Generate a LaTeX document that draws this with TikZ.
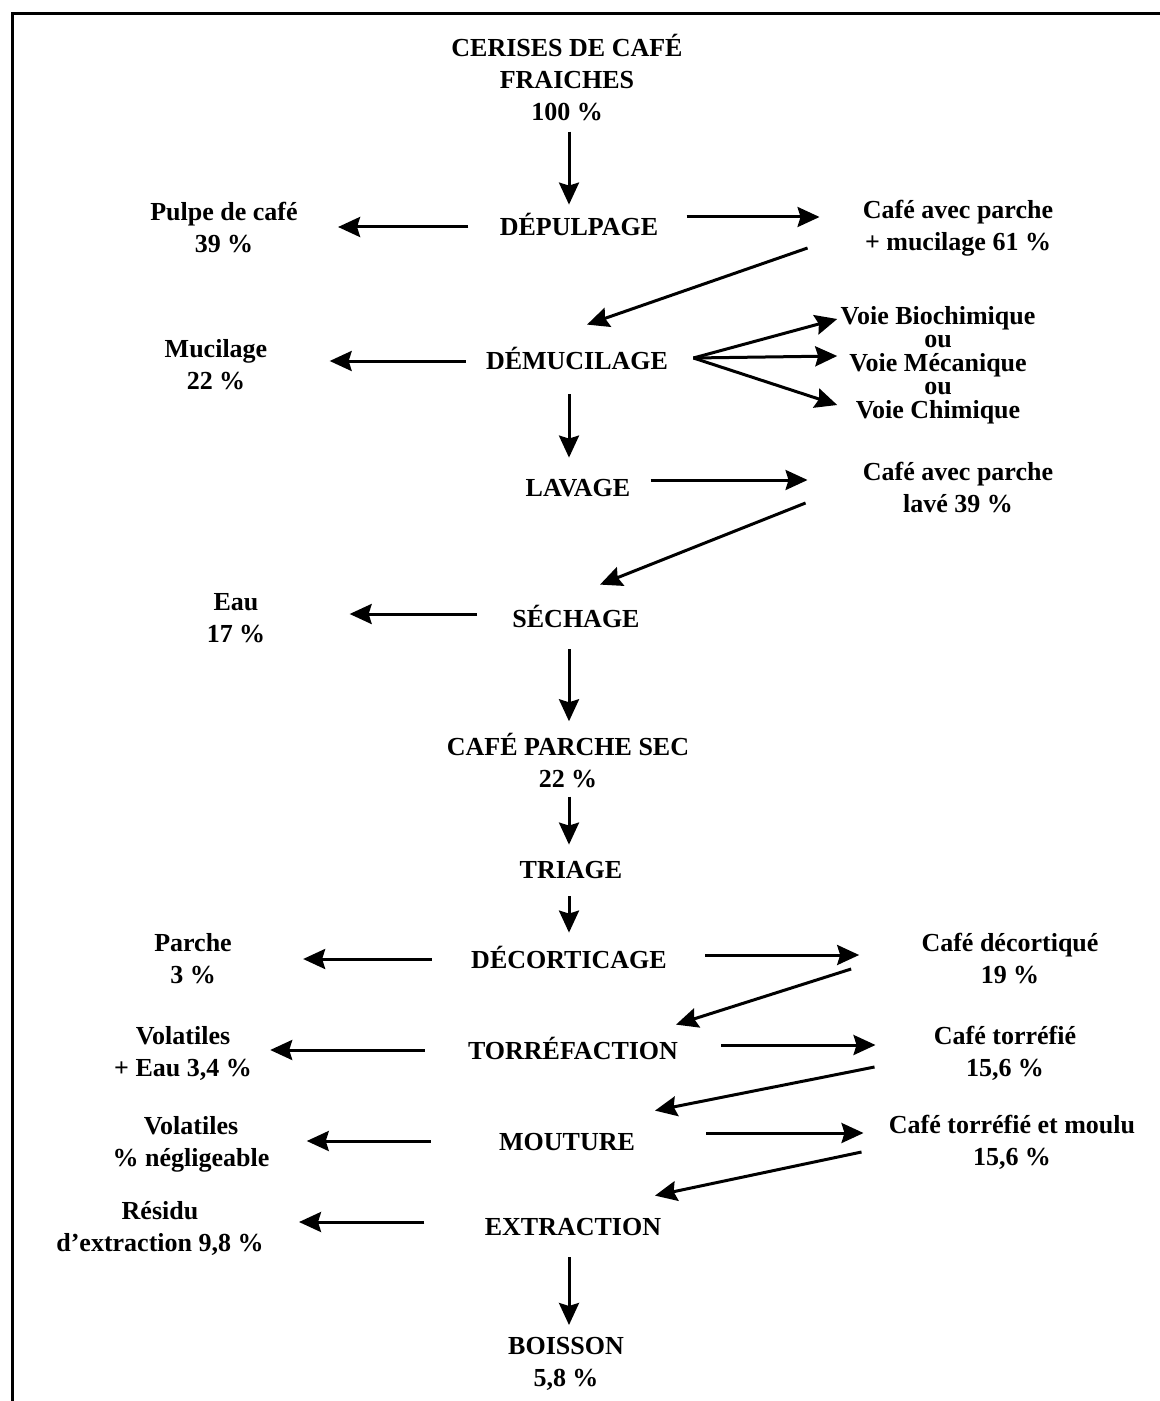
\documentclass[tikz,border=0pt]{standalone}
\usepackage{fontspec}
\setmainfont{Liberation Serif}
\usetikzlibrary{arrows.meta}

\begin{document}
\begin{tikzpicture}[x=0.5pt,y=-0.5pt,
  every node/.style={font=\fontsize{13}{16}\selectfont\bfseries, inner sep=0pt, align=center},
  etape/.style={text height=9pt, text depth=0pt},
  flow/.style={line width=1.5pt, -{Stealth[length=11pt,width=10pt,inset=1.5pt]}}]
\useasboundingbox (0,0) rectangle (1160,1401);
\draw[line width=1.5pt] (12,1401) -- (12,14) -- (1160,14);

% axe central
\coordinate (axe) at (569,0);

\node (cerises) at (567,78) {CERISES DE CAFÉ\\FRAICHES\\100 \%};
\node[etape] (depul) at (579,227) {DÉPULPAGE};
\node (pulpe) at (224,228) {Pulpe de café\\39 \%};
\node (cafep) at (958,228) {Café avec parche\\+ mucilage 61 \%};
\node[etape] (demuc) at (577,361) {DÉMUCILAGE};
\node (mucil) at (216,365) {Mucilage\\22 \%};
\node[font=\fontsize{13}{11.7}\selectfont\bfseries] (voies) at (938,365)
  {Voie Biochimique\\ou\\Voie Mécanique\\ou\\Voie Chimique};
\node[etape] (lavage) at (578,487) {LAVAGE};
\node (cafel) at (958,488) {Café avec parche\\lavé 39 \%};
\node[etape] (sech) at (576,618) {SÉCHAGE};
\node (eau) at (236,618) {Eau\\17 \%};
\node (parsec) at (568,761) {CAFÉ PARCHE SEC\\22 \%};
\node[etape] (triage) at (571,869) {TRIAGE};
\node[etape] (decort) at (569,959) {DÉCORTICAGE};
\node (parche) at (193,959) {Parche\\3 \%};
\node (cafed) at (1010,959) {Café décortiqué\\19 \%};
\node[etape] (torr) at (573,1050) {TORRÉFACTION};
\node (volat1) at (183,1053) {Volatiles\\+ Eau 3,4 \%};
\node (cafet) at (1005,1053) {Café torréfié\\15,6 \%};
\node[etape] (mout) at (567,1141) {MOUTURE};
\node (volat2) at (191,1144) {Volatiles\\\% négligeable};
\node (cafem) at (1012,1142) {Café torréfié et moulu\\15,6 \%};
\node[etape] (extr) at (573,1226) {EXTRACTION};
\node (residu) at (160,1228) {Résidu\\d'extraction 9,8 \%};
\node (boisson) at (566,1364) {BOISSON\\5,8 \%};

% fleches verticales
\draw[flow, shorten <=5pt, shorten >=6.5pt] (cerises.south -| axe) -- (depul.north -| axe);
\draw[flow, shorten <=12pt, shorten >=10pt] (demuc.south -| axe) -- (lavage.north -| axe);
\draw[flow, shorten <=11pt, shorten >=6pt] (sech.south -| axe) -- (parsec.north -| axe);
\draw[flow, shorten <=4pt, shorten >=7.5pt] (parsec.south -| axe) -- (triage.north -| axe);
\draw[flow, shorten <=9pt, shorten >=8.5pt] (triage.south -| axe) -- (decort.north -| axe);
\draw[flow, shorten <=11pt, shorten >=6pt] (extr.south -| axe) -- (boisson.north -| axe);

% fleches vers la gauche
\draw[flow, shorten <=15.5pt, shorten >=20pt] (depul.west) -- (depul.west -| pulpe.east);
\draw[flow, shorten <=10pt, shorten >=31pt] (demuc.west) -- (demuc.west -| mucil.east);
\draw[flow, shorten <=17.5pt, shorten >=42pt] ([yshift=2pt]sech.west) -- ([yshift=2pt]sech.west -| eau.east);
\draw[flow, shorten <=19.5pt, shorten >=35.5pt] (decort.west) -- (decort.west -| parche.east);
\draw[flow, shorten <=21.5pt, shorten >=9pt] (torr.west) -- (torr.west -| volat1.east);
\draw[flow, shorten <=34pt, shorten >=18.5pt] (mout.west) -- (mout.west -| volat2.east);
\draw[flow, shorten <=30pt, shorten >=17.5pt] ([yshift=2pt]extr.west) -- ([yshift=2pt]extr.west -| residu.east);

% fleches vers la droite
\draw[flow, shorten <=14pt, shorten >=21.5pt] ([yshift=5pt]depul.east) -- ([yshift=5pt]depul.east -| cafep.west);
\draw[flow, shorten <=10pt, shorten >=27.5pt] ([yshift=3.5pt]lavage.east) -- ([yshift=3.5pt]lavage.east -| cafel.west);
\draw[flow, shorten <=19pt, shorten >=31pt] ([yshift=2pt]decort.east) -- ([yshift=2pt]decort.east -| cafed.west);
\draw[flow, shorten <=21.5pt, shorten >=29pt] ([yshift=2.5pt]torr.east) -- ([yshift=2.5pt]torr.east -| cafet.west);
\draw[flow, shorten <=35.5pt, shorten >=12.5pt] ([yshift=4pt]mout.east) -- ([yshift=4pt]mout.east -| cafem.west);

% trois voies
\coordinate (fan) at ([xshift=12.5pt,yshift=1.5pt]demuc.east);
\draw[flow] (fan) -- ([xshift=-1.5pt,yshift=23pt]voies.west);
\draw[flow] (fan) -- ([xshift=-1.5pt,yshift=4.5pt]voies.west);
\draw[flow] (fan) -- ([xshift=-1.5pt,yshift=-20pt]voies.west);

% retours en diagonale
\draw[flow] ([xshift=-27.5pt,yshift=-10pt]cafep.west) -- ([xshift=5pt,yshift=13.5pt]demuc.north);
\draw[flow] ([xshift=-28.5pt,yshift=-7.5pt]cafel.west) -- ([xshift=12pt,yshift=12pt]sech.north);
\draw[flow] ([xshift=-35pt,yshift=-5pt]cafed.west) -- ([xshift=51.5pt,yshift=8pt]torr.north);
\draw[flow] ([xshift=-29.5pt,yshift=-7pt]cafet.west) -- ([xshift=44pt,yshift=10.5pt]mout.north);
\draw[flow] ([xshift=-13.5pt,yshift=-5pt]cafem.west) -- ([xshift=41pt,yshift=10.5pt]extr.north);
\end{tikzpicture}
\end{document}
